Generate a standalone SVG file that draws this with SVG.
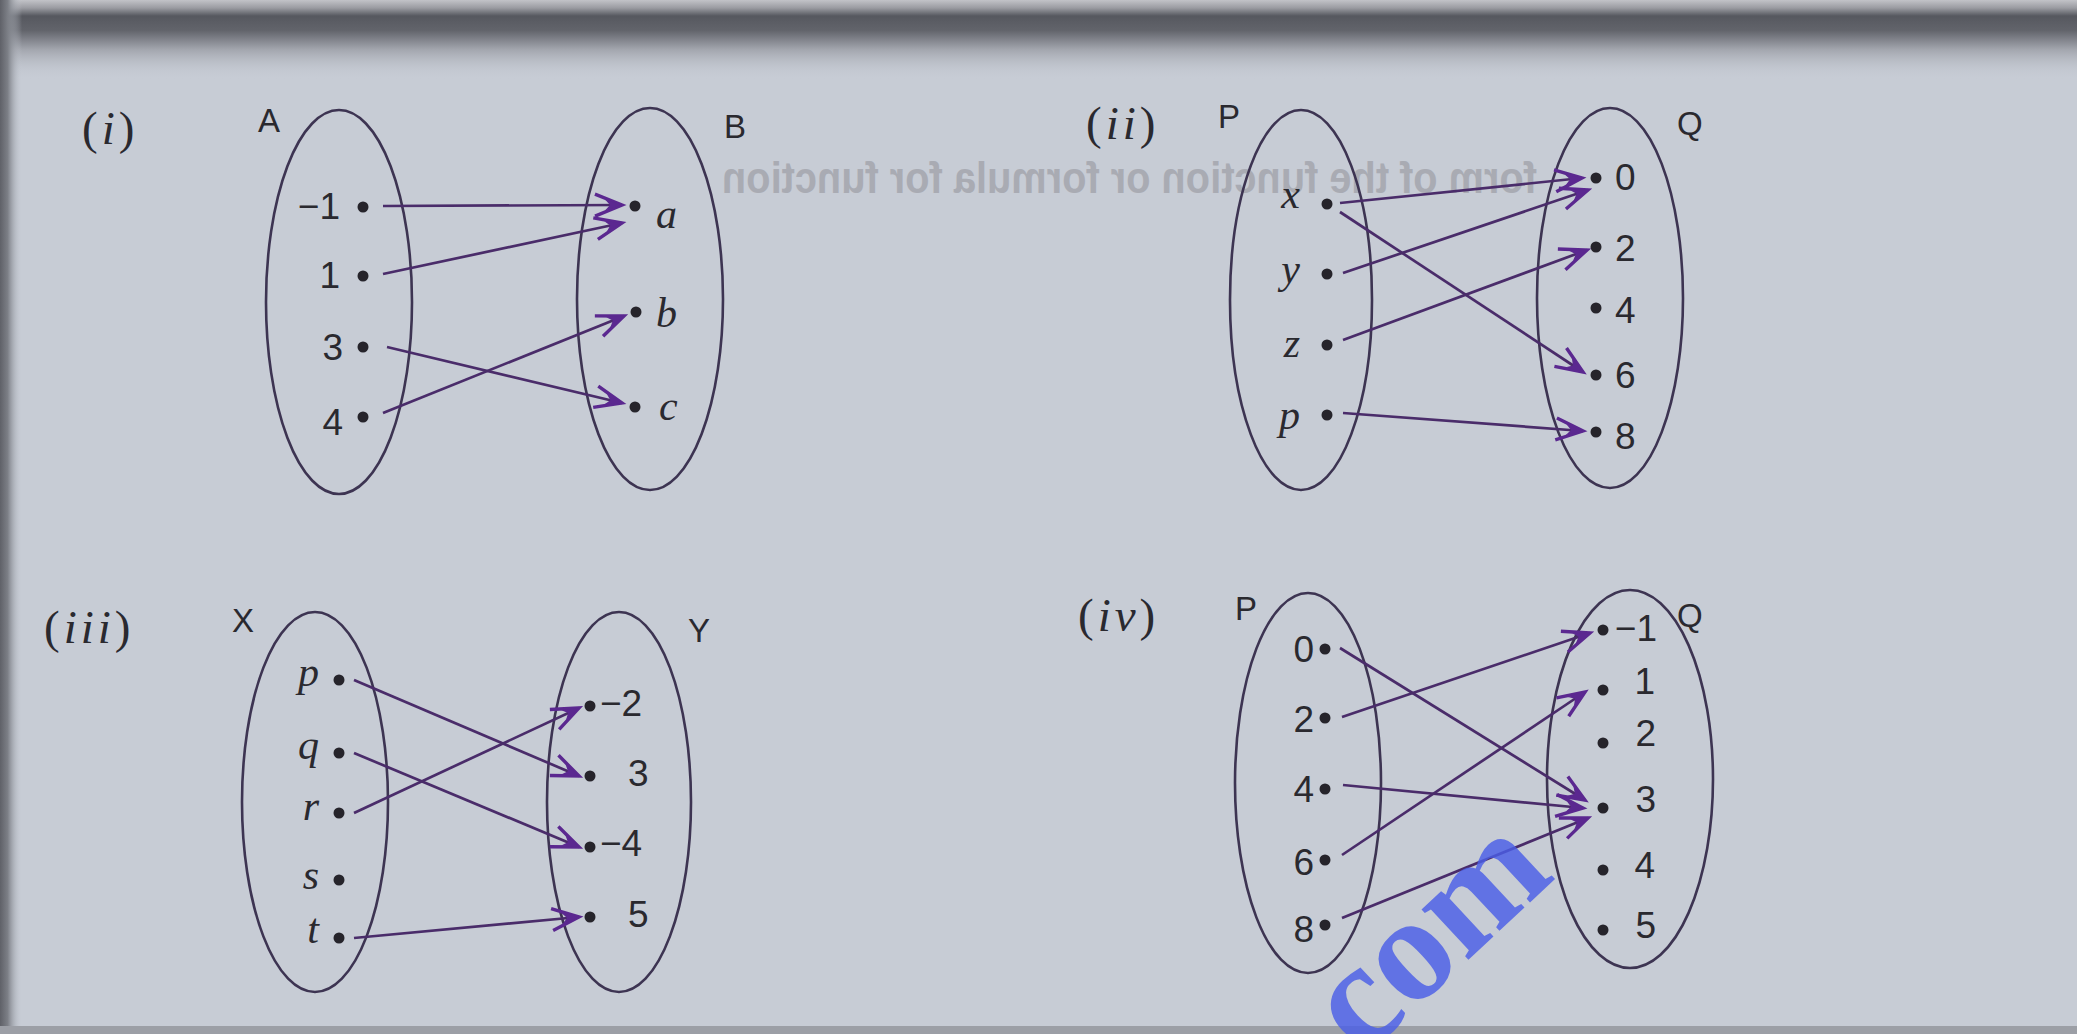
<svg xmlns="http://www.w3.org/2000/svg" width="2077" height="1034" viewBox="0 0 2077 1034">
<defs>
<linearGradient id="topband" x1="0" y1="0" x2="0" y2="1">
<stop offset="0" stop-color="#c2c3c8"/>
<stop offset="0.1" stop-color="#9a9ba1"/>
<stop offset="0.2" stop-color="#56585f"/>
<stop offset="0.38" stop-color="#62646b"/>
<stop offset="0.62" stop-color="#a3a6ae"/>
<stop offset="1" stop-color="#c7ccd5" stop-opacity="0"/>
</linearGradient>
<linearGradient id="leftband" x1="0" y1="0" x2="1" y2="0">
<stop offset="0" stop-color="#5f6168"/>
<stop offset="0.35" stop-color="#7c7f86"/>
<stop offset="1" stop-color="#c7ccd5" stop-opacity="0"/>
</linearGradient>
<marker id="ah" markerUnits="userSpaceOnUse" markerWidth="40" markerHeight="30" viewBox="-32 -15 40 30" refX="0" refY="0" orient="auto" overflow="visible">
<path d="M-27,-11 L0,0 L-27,11" fill="none" stroke="#5b2890" stroke-width="3.4" stroke-linejoin="miter"/>
<path d="M0,0 L-17,-5.5 L-12,0 L-17,5.5 Z" fill="#5b2890"/>
</marker>
</defs>
<style>
.set{fill:none;stroke:#3d3452;stroke-width:2.6}
.dot{fill:#26242b}
.num{font-family:"Liberation Sans",Arial,sans-serif;font-size:37px;fill:#2a292f}
.setname{font-family:"Liberation Sans",Arial,sans-serif;font-size:33px;fill:#2a292f}
.var{font-family:"Liberation Serif","Times New Roman",serif;font-style:italic;font-size:42px;fill:#2a292f}
.tag{font-family:"Liberation Serif","Times New Roman",serif;font-size:47px;fill:#2a292f;letter-spacing:4px}
.tag tspan.i{font-style:italic}
.conn line{stroke:#4a2c6a;stroke-width:2.7;marker-end:url(#ah)}
</style>

<rect x="0" y="0" width="2077" height="1034" fill="#c7ccd5"/>
<rect x="0" y="0" width="2077" height="80" fill="url(#topband)"/>
<rect x="0" y="0" width="22" height="1034" fill="url(#leftband)"/>
<rect x="0" y="1026" width="2077" height="8" fill="#9c9fa6"/>

<text transform="scale(-1,1)" x="-1537" y="193" font-family="Liberation Sans,Arial,sans-serif" font-weight="bold" font-size="44" fill="#a9abb3" textLength="815" lengthAdjust="spacingAndGlyphs">form of the function or formula for function</text>

<!-- Panel (i) -->
<g id="panel-i-label"><text class="tag" x="82" y="144">(<tspan class="i">i</tspan>)</text></g>
<g id="set-A">
<ellipse class="set" cx="339" cy="302" rx="73" ry="192"/>
<text class="setname" x="258" y="132">A</text>
</g>
<g id="node-A-m1"><circle class="dot" cx="363" cy="207" r="5.5"/><text class="num" x="340" y="219" text-anchor="end">−1</text></g>
<g id="node-A-1"><circle class="dot" cx="363" cy="276" r="5.5"/><text class="num" x="340" y="288" text-anchor="end">1</text></g>
<g id="node-A-3"><circle class="dot" cx="363" cy="347" r="5.5"/><text class="num" x="343" y="360" text-anchor="end">3</text></g>
<g id="node-A-4"><circle class="dot" cx="363" cy="417" r="5.5"/><text class="num" x="343" y="435" text-anchor="end">4</text></g>
<g id="set-B">
<ellipse class="set" cx="650" cy="299" rx="73" ry="191"/>
<text class="setname" x="724" y="138">B</text>
</g>
<g id="node-B-a"><circle class="dot" cx="635" cy="206" r="5.5"/><text class="var" x="656" y="228">a</text></g>
<g id="node-B-b"><circle class="dot" cx="636" cy="312" r="5.5"/><text class="var" x="656" y="327">b</text></g>
<g id="node-B-c"><circle class="dot" cx="635" cy="407" r="5.5"/><text class="var" x="659" y="420">c</text></g>

<!-- Panel (ii) -->
<g id="panel-ii-label"><text class="tag" x="1086" y="139">(<tspan class="i">ii</tspan>)</text></g>
<g id="set-P2">
<ellipse class="set" cx="1301" cy="300" rx="71" ry="190"/>
<text class="setname" x="1218" y="128">P</text>
</g>
<g id="node-P2-x"><circle class="dot" cx="1327" cy="204" r="5.5"/><text class="var" x="1300" y="208" text-anchor="end">x</text></g>
<g id="node-P2-y"><circle class="dot" cx="1327" cy="274" r="5.5"/><text class="var" x="1300" y="283" text-anchor="end">y</text></g>
<g id="node-P2-z"><circle class="dot" cx="1327" cy="345" r="5.5"/><text class="var" x="1300" y="357" text-anchor="end">z</text></g>
<g id="node-P2-p"><circle class="dot" cx="1327" cy="415" r="5.5"/><text class="var" x="1300" y="429" text-anchor="end">p</text></g>
<g id="set-Q2">
<ellipse class="set" cx="1610" cy="298" rx="73" ry="190"/>
<text class="setname" x="1677" y="135">Q</text>
</g>
<g id="node-Q2-0"><circle class="dot" cx="1596" cy="178" r="5.5"/><text class="num" x="1615" y="190">0</text></g>
<g id="node-Q2-2"><circle class="dot" cx="1596" cy="247" r="5.5"/><text class="num" x="1615" y="261">2</text></g>
<g id="node-Q2-4"><circle class="dot" cx="1596" cy="308" r="5.5"/><text class="num" x="1615" y="323">4</text></g>
<g id="node-Q2-6"><circle class="dot" cx="1596" cy="375" r="5.5"/><text class="num" x="1615" y="388">6</text></g>
<g id="node-Q2-8"><circle class="dot" cx="1596" cy="432" r="5.5"/><text class="num" x="1615" y="449">8</text></g>

<!-- Panel (iii) -->
<g id="panel-iii-label"><text class="tag" x="44" y="643">(<tspan class="i">iii</tspan>)</text></g>
<g id="set-X">
<ellipse class="set" cx="315" cy="802" rx="73" ry="190"/>
<text class="setname" x="232" y="632">X</text>
</g>
<g id="node-X-p"><circle class="dot" cx="339" cy="680" r="5.5"/><text class="var" x="319" y="686" text-anchor="end">p</text></g>
<g id="node-X-q"><circle class="dot" cx="339" cy="753" r="5.5"/><text class="var" x="319" y="759" text-anchor="end">q</text></g>
<g id="node-X-r"><circle class="dot" cx="339" cy="813" r="5.5"/><text class="var" x="319" y="820" text-anchor="end">r</text></g>
<g id="node-X-s"><circle class="dot" cx="339" cy="880" r="5.5"/><text class="var" x="319" y="889" text-anchor="end">s</text></g>
<g id="node-X-t"><circle class="dot" cx="339" cy="938" r="5.5"/><text class="var" x="319" y="943" text-anchor="end">t</text></g>
<g id="set-Y">
<ellipse class="set" cx="619" cy="802" rx="72" ry="190"/>
<text class="setname" x="688" y="642">Y</text>
</g>
<g id="node-Y-m2"><circle class="dot" cx="590" cy="706" r="5.5"/><text class="num" x="600" y="716">−2</text></g>
<g id="node-Y-3"><circle class="dot" cx="590" cy="776" r="5.5"/><text class="num" x="628" y="786">3</text></g>
<g id="node-Y-m4"><circle class="dot" cx="590" cy="847" r="5.5"/><text class="num" x="600" y="856">−4</text></g>
<g id="node-Y-5"><circle class="dot" cx="590" cy="917" r="5.5"/><text class="num" x="628" y="927">5</text></g>

<!-- Panel (iv) -->
<g id="panel-iv-label"><text class="tag" x="1078" y="631">(<tspan class="i">iv</tspan>)</text></g>
<g id="set-P4">
<ellipse class="set" cx="1308" cy="783" rx="73" ry="190"/>
<text class="setname" x="1235" y="620">P</text>
</g>
<g id="node-P4-0"><circle class="dot" cx="1325" cy="649" r="5.5"/><text class="num" x="1314" y="662" text-anchor="end">0</text></g>
<g id="node-P4-2"><circle class="dot" cx="1325" cy="718" r="5.5"/><text class="num" x="1314" y="732" text-anchor="end">2</text></g>
<g id="node-P4-4"><circle class="dot" cx="1325" cy="789" r="5.5"/><text class="num" x="1314" y="802" text-anchor="end">4</text></g>
<g id="node-P4-6"><circle class="dot" cx="1325" cy="860" r="5.5"/><text class="num" x="1314" y="875" text-anchor="end">6</text></g>
<g id="node-P4-8"><circle class="dot" cx="1325" cy="925" r="5.5"/><text class="num" x="1314" y="942" text-anchor="end">8</text></g>
<g id="set-Q4">
<ellipse class="set" cx="1630" cy="779" rx="83" ry="189"/>
<text class="setname" x="1677" y="627">Q</text>
</g>
<g id="node-Q4-m1"><circle class="dot" cx="1603" cy="630" r="5.5"/><text class="num" x="1657" y="641" text-anchor="end">−1</text></g>
<g id="node-Q4-1"><circle class="dot" cx="1603" cy="690" r="5.5"/><text class="num" x="1655" y="694" text-anchor="end">1</text></g>
<g id="node-Q4-2"><circle class="dot" cx="1603" cy="743" r="5.5"/><text class="num" x="1656" y="746" text-anchor="end">2</text></g>
<g id="node-Q4-3"><circle class="dot" cx="1603" cy="808" r="5.5"/><text class="num" x="1656" y="812" text-anchor="end">3</text></g>
<g id="node-Q4-4"><circle class="dot" cx="1603" cy="870" r="5.5"/><text class="num" x="1655" y="878" text-anchor="end">4</text></g>
<g id="node-Q4-5"><circle class="dot" cx="1603" cy="930" r="5.5"/><text class="num" x="1656" y="938" text-anchor="end">5</text></g>

<!-- Connectors -->
<g id="connectors" class="conn">
<line x1="383" y1="206" x2="622" y2="205"/>
<line x1="383" y1="274" x2="622" y2="223"/>
<line x1="387" y1="347" x2="622" y2="403"/>
<line x1="383" y1="413" x2="624" y2="316"/>

<line x1="1340" y1="203" x2="1582" y2="178"/>
<line x1="1343" y1="273" x2="1588" y2="190"/>
<line x1="1340" y1="212" x2="1583" y2="372"/>
<line x1="1343" y1="340" x2="1587" y2="250"/>
<line x1="1343" y1="413" x2="1583" y2="431"/>

<line x1="354" y1="680" x2="579" y2="776"/>
<line x1="354" y1="753" x2="579" y2="847"/>
<line x1="354" y1="813" x2="579" y2="708"/>
<line x1="354" y1="938" x2="579" y2="917"/>

<line x1="1340" y1="648" x2="1585" y2="800"/>
<line x1="1342" y1="717" x2="1590" y2="633"/>
<line x1="1343" y1="785" x2="1583" y2="808"/>
<line x1="1342" y1="855" x2="1585" y2="692"/>
<line x1="1342" y1="918" x2="1588" y2="818"/>
</g>

<text transform="translate(1362,1059) rotate(-43)" font-family="Liberation Serif,Times New Roman,serif" font-weight="bold" font-size="150" fill="#4b5ee6" fill-opacity="0.82">com</text>
</svg>
